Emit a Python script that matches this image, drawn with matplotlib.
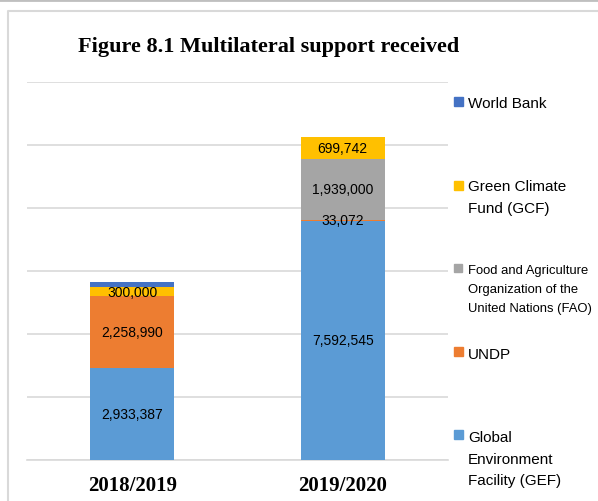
import matplotlib
matplotlib.use("Agg")
from matplotlib import pyplot as plt
from matplotlib.lines import Line2D
from matplotlib.patches import Rectangle

years = ["2018/2019", "2019/2020"]

gef = [2933387, 7592545]
undp = [2258990, 33072]
fao = [0, 1939000]
gcf = [300000, 699742]
world_bank = [160000, 0]

series = [
    ("Global\nEnvironment\nFacility (GEF)", gef, "#5B9BD5", True),
    ("UNDP", undp, "#ED7D31", True),
    ("Food and Agriculture\nOrganization of the\nUnited Nations (FAO)", fao, "#A5A5A5", True),
    ("Green Climate\nFund (GCF)", gcf, "#FFC000", True),
    ("World Bank", world_bank, "#4472C4", False),
]

W, H = 598, 502
fig = plt.figure(figsize=(W / 100, H / 100), dpi=100)
ax = fig.add_axes([27 / W, 1 - 461 / H, 421 / W, 378 / H])

x = list(range(len(years)))
bottom = [0] * len(years)
for name, vals, color, show in series:
    bars = ax.bar(x, vals, 0.4, bottom=bottom, color=color, zorder=3)
    if show:
        labels = [f"{v:,}" if v else "" for v in vals]
        txts = ax.bar_label(bars, labels=labels, label_type="center",
                            family="Liberation Sans", fontsize=10, color="#000000")
        for t in txts:
            t.set_zorder(10)
    bottom = [b + v for b, v in zip(bottom, vals)]

ax.set_xlim(-0.5, 1.5)
ax.set_ylim(0, 12000000)
ax.set_yticks(range(0, 12000001, 2000000))
ax.yaxis.grid(True, color="#D9D9D9", linewidth=1.2, zorder=0)
ax.tick_params(axis="y", left=False, labelleft=False)
ax.tick_params(axis="x", length=0, pad=11)
ax.set_xticks(x)
ax.set_xticklabels(years, family="Liberation Serif", fontweight="bold", fontsize=15)
for side in ["top", "right", "left"]:
    ax.spines[side].set_visible(False)
ax.spines["bottom"].set_color("#D9D9D9")
ax.spines["bottom"].set_linewidth(1.2)

fig.text(269 / W, 1 - 47 / H, "Figure 8.1 Multilateral support received",
         family="Liberation Serif", fontweight="bold", fontsize=16,
         ha="center", va="center")

# legend, top entry first, placed like the original
baselines = [108, 191, 274, 359, 442]
square_mid = [102.5, 186, 269, 352.5, 435]
sizes = [11, 11, 9.4, 11, 11]
for (name, vals, color, show), base, mid, fs in zip(series[::-1], baselines, square_mid, sizes):
    sq = 9 if fs > 10 else 8
    step = 21.7 if fs > 10 else 19
    fig.add_artist(Rectangle((454 / W, 1 - (mid + sq / 2) / H), sq / W, sq / H,
                             transform=fig.transFigure, color=color))
    for i, line in enumerate(name.split("\n")):
        fig.text(468 / W, 1 - (base + i * step) / H, line, family="Liberation Sans",
                 fontsize=fs, va="baseline", ha="left")

# frame lines
fig.add_artist(Line2D([0, 1], [1 - 1 / H, 1 - 1 / H], transform=fig.transFigure,
                      color="#BFBFBF", linewidth=2))
fig.add_artist(Line2D([8 / W, 8 / W, 1], [0, 1 - 12 / H, 1 - 12 / H],
                      transform=fig.transFigure, color="#D9D9D9", linewidth=1.5))

fig.savefig("out.png", dpi=100)
